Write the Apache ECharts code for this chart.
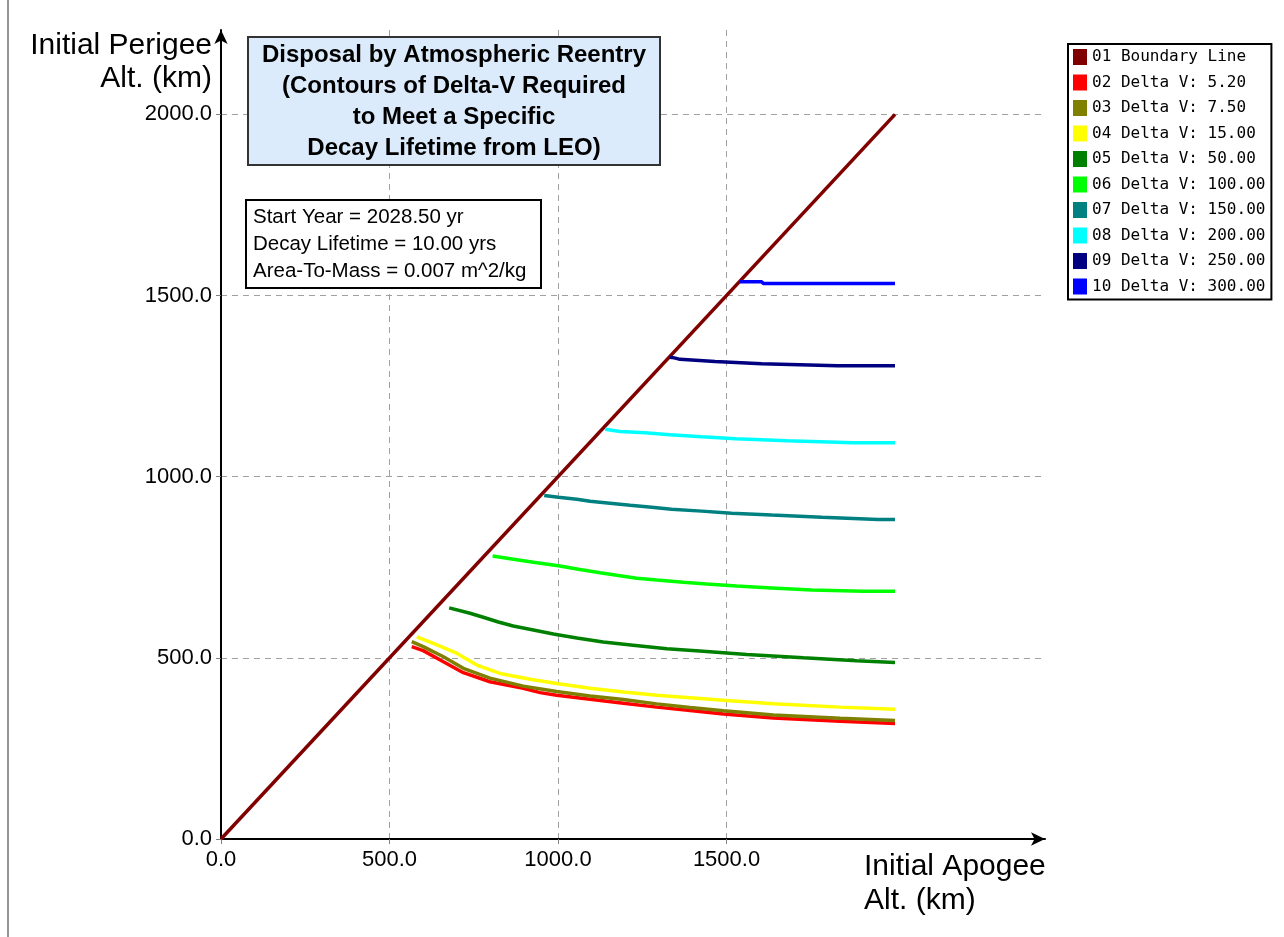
<!DOCTYPE html>
<html>
<head>
<meta charset="utf-8">
<script src="https://cdn.jsdelivr.net/npm/echarts@6/dist/echarts.min.js"></script>
<style>
html,body{margin:0;padding:0;background:#fff;}
#chart{width:1284px;height:937px;}
</style>
</head>
<body>
<div id="chart"></div>
<script>
// ---- data (km) ----
const seriesNames = [
  '01 Boundary Line', '02 Delta V: 5.20', '03 Delta V: 7.50', '04 Delta V: 15.00',
  '05 Delta V: 50.00', '06 Delta V: 100.00', '07 Delta V: 150.00', '08 Delta V: 200.00',
  '09 Delta V: 250.00', '10 Delta V: 300.00'
];
const seriesColors = ['#800000','#ff0000','#808000','#ffff00','#008000','#00ff00','#008080','#00ffff','#000080','#0000ff'];
const xTickValues = [0, 500, 1000, 1500];
const yTickValues = [0, 500, 1000, 1500, 2000];

const boundaryLine = [[0,0],[2000,2000]];
const dv520 = [[566,531],[600,520],[660,489],[719,459],[798,434],[897,416],[947,404],[996,397],[1095,386],[1194,375],[1293,364],[1392,355],[1491,345],[1639,334],[1837,325],[2000,319]];
const dv750 = [[566,545],[600,531],[660,503],[719,471],[798,444],[897,422],[996,407],[1095,395],[1194,385],[1293,373],[1392,363],[1491,354],[1639,342],[1837,333],[2000,327]];
const dv1500 = [[581,558],[630,540],[699,513],[759,480],[828,457],[917,441],[996,429],[1095,416],[1194,406],[1293,397],[1392,390],[1491,383],[1639,373],[1837,364],[2000,358]];
const dv5000 = [[677,638],[739,623],[778,612],[823,599],[867,588],[927,577],[986,566],[1056,555],[1134,544],[1223,535],[1323,525],[1431,518],[1560,509],[1728,500],[1886,492],[2000,487]];
const dv10000 = [[806,781],[863,773],[927,764],[1001,754],[1065,744],[1125,735],[1174,728],[1234,720],[1293,715],[1372,709],[1441,704],[1530,698],[1634,693],[1753,687],[1906,684],[2000,684]];
const dv15000 = [[959,948],[1001,943],[1056,938],[1095,932],[1154,927],[1214,921],[1278,916],[1337,910],[1426,905],[1515,899],[1634,894],[1783,888],[1950,882],[2000,882]];
const dv20000 = [[1140,1131],[1184,1125],[1258,1121],[1332,1116],[1426,1110],[1527,1105],[1679,1099],[1876,1094],[2000,1094]];
const dv25000 = [[1332,1330],[1345,1328],[1362,1324],[1466,1318],[1604,1312],[1829,1306],[2000,1306]];
const dv30000 = [[1540,1538],[1604,1538],[1610,1533],[2000,1533]];

const allData = [boundaryLine, dv520, dv750, dv1500, dv5000, dv10000, dv15000, dv20000, dv25000, dv30000];

const titleLines = ['Disposal by Atmospheric Reentry','(Contours of Delta-V Required','to Meet a Specific','Decay Lifetime from LEO)'];
const infoLines = ['Start Year = 2028.50 yr','Decay Lifetime = 10.00 yrs','Area-To-Mass = 0.007 m^2/kg'];
const yAxisName = 'Initial Perigee\nAlt. (km)';
const xAxisName = 'Initial Apogee\nAlt. (km)';

const FONT = '"Liberation Sans", Arial, sans-serif';

const chart = echarts.init(document.getElementById('chart'), null, {renderer: 'canvas'});

const axisCommon = (ticks, margin) => ({
  type: 'value',
  min: 0,
  interval: 500,
  axisLine: {show: true, onZero: false, lineStyle: {color: '#000', width: 2}, symbol: ['none', 'arrow'], symbolSize: [10, 14]},
  axisTick: {show: true, length: 5, lineStyle: {color: '#808080', width: 1}, customValues: ticks},
  axisLabel: {customValues: ticks, formatter: v => Number(v).toFixed(1), fontFamily: FONT, fontSize: 22, color: '#000', margin: margin},
  splitLine: {show: true, showMinLine: false, lineStyle: {color: '#a0a0a0', width: 1, type: [6, 5]}}
});

const option = {
  animation: false,
  backgroundColor: '#fff',
  grid: {left: 221, top: 30, right: 239, bottom: 98, containLabel: false},
  xAxis: Object.assign(axisCommon(xTickValues, 10), {max: 2445}),
  yAxis: Object.assign(axisCommon(yTickValues, 9), {max: 2233}),
  legend: {
    orient: 'vertical',
    left: 1068, top: 44,
    padding: [5, 6, 5, 5],
    borderColor: '#000', borderWidth: 2,
    backgroundColor: '#fff',
    itemWidth: 14, itemHeight: 16, itemGap: 9.5, itemTextGap: 5,
    icon: 'rect',
    selectedMode: false,
    textStyle: {fontFamily: '"DejaVu Sans Mono", "Liberation Mono", monospace', fontSize: 16, color: '#000'},
    data: seriesNames
  },
  series: allData.map((d, i) => ({
    name: seriesNames[i],
    type: 'line',
    data: d,
    showSymbol: false,
    symbol: 'none',
    color: seriesColors[i],
    lineStyle: {color: seriesColors[i], width: 3.5},
    emphasis: {disabled: true},
    z: 2 + i
  })),
  graphic: [
    {type: 'line', shape: {x1: 8, y1: 0, x2: 8, y2: 937}, style: {stroke: '#707070', lineWidth: 1.5}, silent: true},
    {type: 'text', x: 212, y: 29, style: {text: yAxisName, fill: '#000', font: '30px ' + FONT, align: 'right', verticalAlign: 'top', lineHeight: 33}, silent: true},
    {type: 'text', x: 864, y: 850, style: {text: xAxisName, fill: '#000', font: '30px ' + FONT, align: 'left', verticalAlign: 'top', lineHeight: 34}, silent: true},
    {type: 'rect', shape: {x: 248, y: 37, width: 412, height: 128}, style: {fill: '#dcebfb', stroke: '#333', lineWidth: 2}, z: 50, silent: true},
    {type: 'text', x: 454, y: 101.5, z: 51, style: {text: titleLines.join('\n'), fill: '#000', font: 'bold 24px ' + FONT, align: 'center', verticalAlign: 'middle', lineHeight: 31}, silent: true},
    {type: 'rect', shape: {x: 246, y: 200, width: 295, height: 88}, style: {fill: '#fff', stroke: '#000', lineWidth: 2}, z: 50, silent: true},
    {type: 'text', x: 253, y: 244, z: 51, style: {text: infoLines.join('\n'), fill: '#000', font: '20.5px ' + FONT, align: 'left', verticalAlign: 'middle', lineHeight: 27}, silent: true}
  ]
};
chart.setOption(option);
</script>
</body>
</html>
